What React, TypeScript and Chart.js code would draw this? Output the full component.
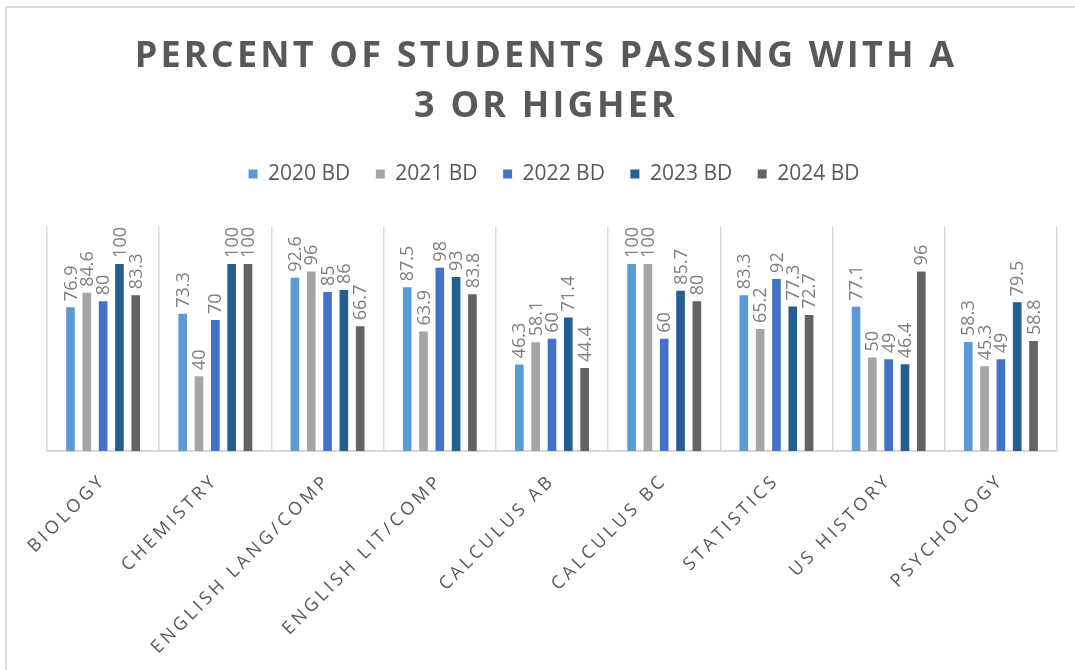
import React, { useEffect, useRef } from 'react';
import { Chart, registerables } from 'chart.js';

Chart.register(...registerables);

const categories = [
  'BIOLOGY',
  'CHEMISTRY',
  'ENGLISH LANG/COMP',
  'ENGLISH LIT/COMP',
  'CALCULUS AB',
  'CALCULUS BC',
  'STATISTICS',
  'US HISTORY',
  'PSYCHOLOGY',
];
const seriesLabels = ['2020 BD', '2021 BD', '2022 BD', '2023 BD', '2024 BD'];
const values2020 = [76.9, 73.3, 92.6, 87.5, 46.3, 100, 83.3, 77.1, 58.3];
const values2021 = [84.6, 40, 96, 63.9, 58.1, 100, 65.2, 50, 45.3];
const values2022 = [80, 70, 85, 98, 60, 60, 92, 49, 49];
const values2023 = [100, 100, 86, 93, 71.4, 85.7, 77.3, 46.4, 79.5];
const values2024 = [83.3, 100, 66.7, 83.8, 44.4, 80, 72.7, 96, 58.8];
const seriesColors = ['#5B9BD5', '#A5A5A5', '#4472C4', '#255E91', '#636363'];
const titleLines = ['PERCENT OF STUDENTS PASSING WITH A', '3 OR HIGHER'];
const yMin = 0;
const yMax = 120;

const W = 1075;
const H = 670;
const LEGEND_EXTRA = 32;
const TITLE_SHIFT = -6;
const LEGEND_SHIFT = 2;

function withSpacing(obj: any, method: string, spacing: string, chart: any) {
  if (!obj || obj['__ls_' + method]) return;
  const orig = obj[method];
  obj[method] = function (...args: any[]) {
    const ctx: any = chart.ctx;
    const prev = ctx.letterSpacing;
    ctx.letterSpacing = spacing;
    try {
      return orig.apply(this, args);
    } finally {
      ctx.letterSpacing = prev || '0px';
    }
  };
  obj['__ls_' + method] = true;
}

const framePlugin = {
  id: 'frame',
  beforeDraw(chart: any) {
    const ctx = chart.ctx;
    ctx.save();
    ctx.fillStyle = '#ffffff';
    ctx.fillRect(0, 0, chart.width, chart.height);
    ctx.strokeStyle = '#d9d9d9';
    ctx.lineWidth = 2;
    ctx.beginPath();
    ctx.moveTo(6, chart.height);
    ctx.lineTo(6, 7);
    ctx.lineTo(chart.width, 7);
    ctx.stroke();
    ctx.restore();
  },
};

const spacingPlugin = {
  id: 'spacing',
  beforeLayout(chart: any) {
    const lg = chart.legend;
    if (lg && !lg.__fitPatched) {
      const of = lg.fit;
      lg.fit = function (...a: any[]) {
        of.apply(this, a);
        this.height += LEGEND_EXTRA;
      };
      lg.__fitPatched = true;
    }
  },
  afterLayout(chart: any) {
    const tb = chart.titleBlock;
    if (tb) {
      tb.left += TITLE_SHIFT;
      tb.right += TITLE_SHIFT;
    }
    const lg = chart.legend;
    if (lg) {
      lg.left += LEGEND_SHIFT;
      lg.right += LEGEND_SHIFT;
    }
    withSpacing(chart.titleBlock, 'draw', '3.2px', chart);
    withSpacing(chart.scales.x, 'drawLabels', '3.5px', chart);
  },
};

const barLabelPlugin = {
  id: 'barLabels',
  afterDatasetsDraw(chart: any) {
    const ctx = chart.ctx;
    ctx.save();
    ctx.font = '18px "Open Sans"';
    ctx.fillStyle = '#7f7f7f';
    ctx.textAlign = 'left';
    ctx.textBaseline = 'middle';
    chart.data.datasets.forEach((ds: any, i: number) => {
      const meta = chart.getDatasetMeta(i);
      meta.data.forEach((bar: any, j: number) => {
        const v = ds.data[j];
        ctx.save();
        ctx.translate(bar.x + 1, bar.y - 6);
        ctx.rotate(-Math.PI / 2);
        ctx.fillText(String(v), 0, 0);
        ctx.restore();
      });
    });
    ctx.restore();
  },
};

export default function App() {
  const ref = useRef<HTMLCanvasElement | null>(null);

  useEffect(() => {
    document.body.style.margin = '0';
    const canvas = ref.current;
    if (!canvas) return;
    const seriesValues = [values2020, values2021, values2022, values2023, values2024];
    const chart = new Chart(canvas, {
      type: 'bar',
      data: {
        labels: categories,
        datasets: seriesLabels.map((label, i) => ({
          label,
          data: seriesValues[i],
          backgroundColor: seriesColors[i],
          borderWidth: 0,
          barPercentage: 0.53,
          categoryPercentage: 0.727,
        })),
      },
      options: {
        responsive: false,
        animation: false,
        devicePixelRatio: 1,
        layout: { padding: { left: 47, right: 18, top: 0, bottom: 0 } },
        plugins: {
          title: {
            display: true,
            text: titleLines,
            color: '#595959',
            font: { family: '"Open Sans"', size: 36, weight: 'bold', lineHeight: 50 / 36 },
            padding: { top: 32, bottom: 6 },
          },
          legend: {
            display: true,
            position: 'top',
            labels: {
              color: '#595959',
              font: { family: '"Open Sans", sans-serif', size: 21 },
              boxWidth: 9,
              boxHeight: 9,
              padding: 25.5,
            },
          },
          tooltip: { enabled: false },
        },
        scales: {
          x: {
            grid: {
              display: true,
              offset: true,
              color: '#d9d9d9',
              lineWidth: 1.5,
              drawTicks: false,
            },
            border: { display: true, color: '#d9d9d9', width: 2 },
            ticks: {
              color: '#595959',
              font: { family: '"Open Sans"', size: 18 },
              maxRotation: 45,
              minRotation: 45,
              autoSkip: false,
              padding: 19,
            },
            afterFit: (scale: any) => {
              scale.height = H - 451;
            },
          },
          y: {
            display: false,
            min: yMin,
            max: yMax,
          },
        },
      },
      plugins: [framePlugin, spacingPlugin, barLabelPlugin],
    } as any);
    return () => chart.destroy();
  }, []);

  return (
    <div style={{ width: W, height: H }}>
      <canvas ref={ref} width={W} height={H} style={{ display: 'block' }} />
    </div>
  );
}
